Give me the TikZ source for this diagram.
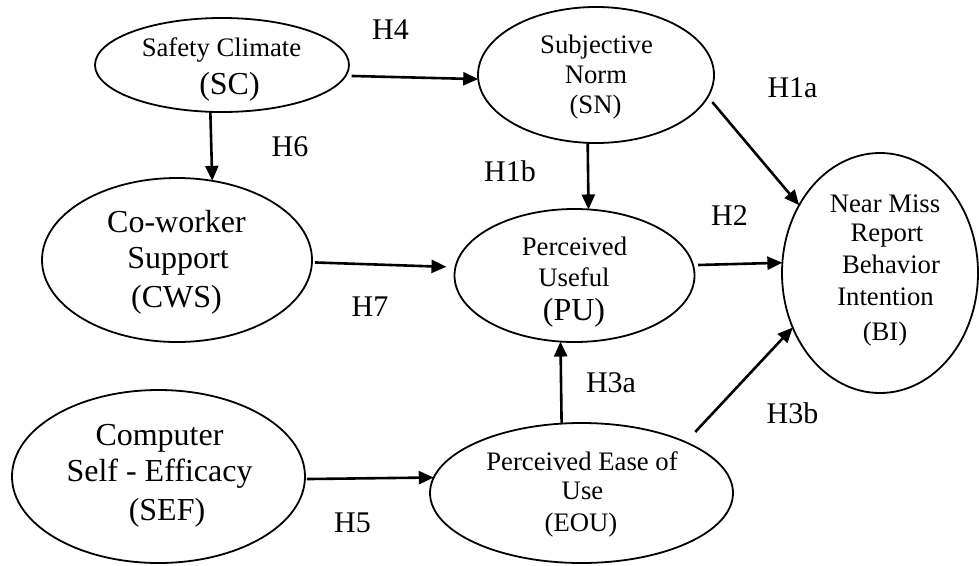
\documentclass[tikz,border=0pt]{standalone}
\usepackage{fontspec}
\setmainfont{Liberation Serif}
\usetikzlibrary{arrows.meta,shapes.geometric}
\newcommand\szS{\fontsize{26.7}{30}\selectfont}
\newcommand\szB{\fontsize{32}{37}\selectfont}
\newcommand\szH{\fontsize{30}{34}\selectfont}
\begin{document}
\begin{tikzpicture}[x=1pt,y=-1pt,
  ell/.style={draw, ellipse, line width=1.8pt, inner sep=0pt, outer sep=0pt},
  ln/.style={anchor=base, inner sep=0pt},
  hyp/.style={anchor=base, inner sep=0pt, font=\szH},
  arr/.style={-{Triangle[length=15pt,width=13pt]}, line width=2.6pt}]
\useasboundingbox (0,0) rectangle (979,565);
% ellipses
\node[ell, minimum width=254pt, minimum height=94pt]  (sc)  at (222,65) {};
\node[ell, minimum width=236pt, minimum height=136pt] (sn)  at (596,75) {};
\node[ell, minimum width=270pt, minimum height=164pt] (cws) at (177,260) {};
\node[ell, minimum width=240pt, minimum height=133pt] (pu)  at (574.5,275.5) {};
\node[ell, minimum width=196pt, minimum height=240pt] (bi)  at (880,273) {};
\node[ell, minimum width=293pt, minimum height=173pt] (sef) at (158.5,476.5) {};
\node[ell, minimum width=303pt, minimum height=140pt] (eou) at (581.5,493) {};
% texts
\node[ln,font=\szS] (sc1) at (221.5,56.7) {Safety Climate};
\node[ln,font=\szB] (sc2) at (229.5,94) {(SC)};
\node[ln,font=\szS] (sn1) at (596.5,53) {Subjective};
\node[ln,font=\szS] (sn2) at (596,83) {Norm};
\node[ln,font=\szS] (sn3) at (595.5,113) {(SN)};
\node[ln,font=\szB] (cws1) at (176.5,232) {Co-worker};
\node[ln,font=\szB] (cws2) at (178,268) {Support};
\node[ln,font=\szB] (cws3) at (176.5,307) {(CWS)};
\node[ln,font=\szS] (pu1) at (574.5,255) {Perceived};
\node[ln,font=\szS] (pu2) at (574,286) {Useful};
\node[ln,font=\szB] (pu3) at (574,320) {(PU)};
\node[ln,font=\szS] (bi1) at (885,212.7) {Near Miss};
\node[ln,font=\szS] (bi2) at (887,241.7) {Report};
\node[ln,font=\szS] (bi3) at (891,273.3) {Behavior};
\node[ln,font=\szS] (bi4) at (885.5,305) {Intention};
\node[ln,font=\szS] (bi5) at (885,340) {(BI)};
\node[ln,font=\szB] (sef1) at (159.5,445) {Computer};
\node[ln,font=\szB] (sef2) at (159.5,481.7) {Self - Efficacy};
\node[ln,font=\szB] (sef3) at (167,520) {(SEF)};
\node[ln,font=\szS] (eou1) at (582,470) {Perceived Ease of};
\node[ln,font=\szS] (eou2) at (582.5,499) {Use};
\node[ln,font=\szS] (eou3) at (581,531.7) {(EOU)};
% hypothesis labels
\node[hyp] (h4)  at (390.5,39)  {H4};
\node[hyp] (h6)  at (290,156)   {H6};
\node[hyp] (h1b) at (510,181)   {H1b};
\node[hyp] (h1a) at (792.5,97)  {H1a};
\node[hyp] (h2)  at (729.5,225) {H2};
\node[hyp] (h7)  at (370,316)   {H7};
\node[hyp] (h3a) at (611,392)   {H3a};
\node[hyp] (h3b) at (792.5,423) {H3b};
\node[hyp] (h5)  at (352.5,532) {H5};
% arrows
\draw[arr, shorten <=6pt] (sc.-5) -- (sn.182.4);
\draw[arr] (sc.256.8) -- (cws.66.8);
\draw[arr] (sn.263.3) -- (pu.78.5);
\draw[arr, shorten <=7pt] (sn.-11.5) -- (bi.140);
\draw[arr, shorten <=3pt, shorten >=9pt] (cws.-1.7) -- (pu.176.7);
\draw[arr, shorten <=5pt] (pu.5.8) -- (bi.174);
\draw[arr] (eou.106.5) -- (pu.258.5);
\draw[arr, shorten <=14pt] (eou.26.7) -- (bi.212.6);
\draw[arr, shorten <=2pt] (sef.-1) -- (eou.174.6);
\end{tikzpicture}
\end{document}
